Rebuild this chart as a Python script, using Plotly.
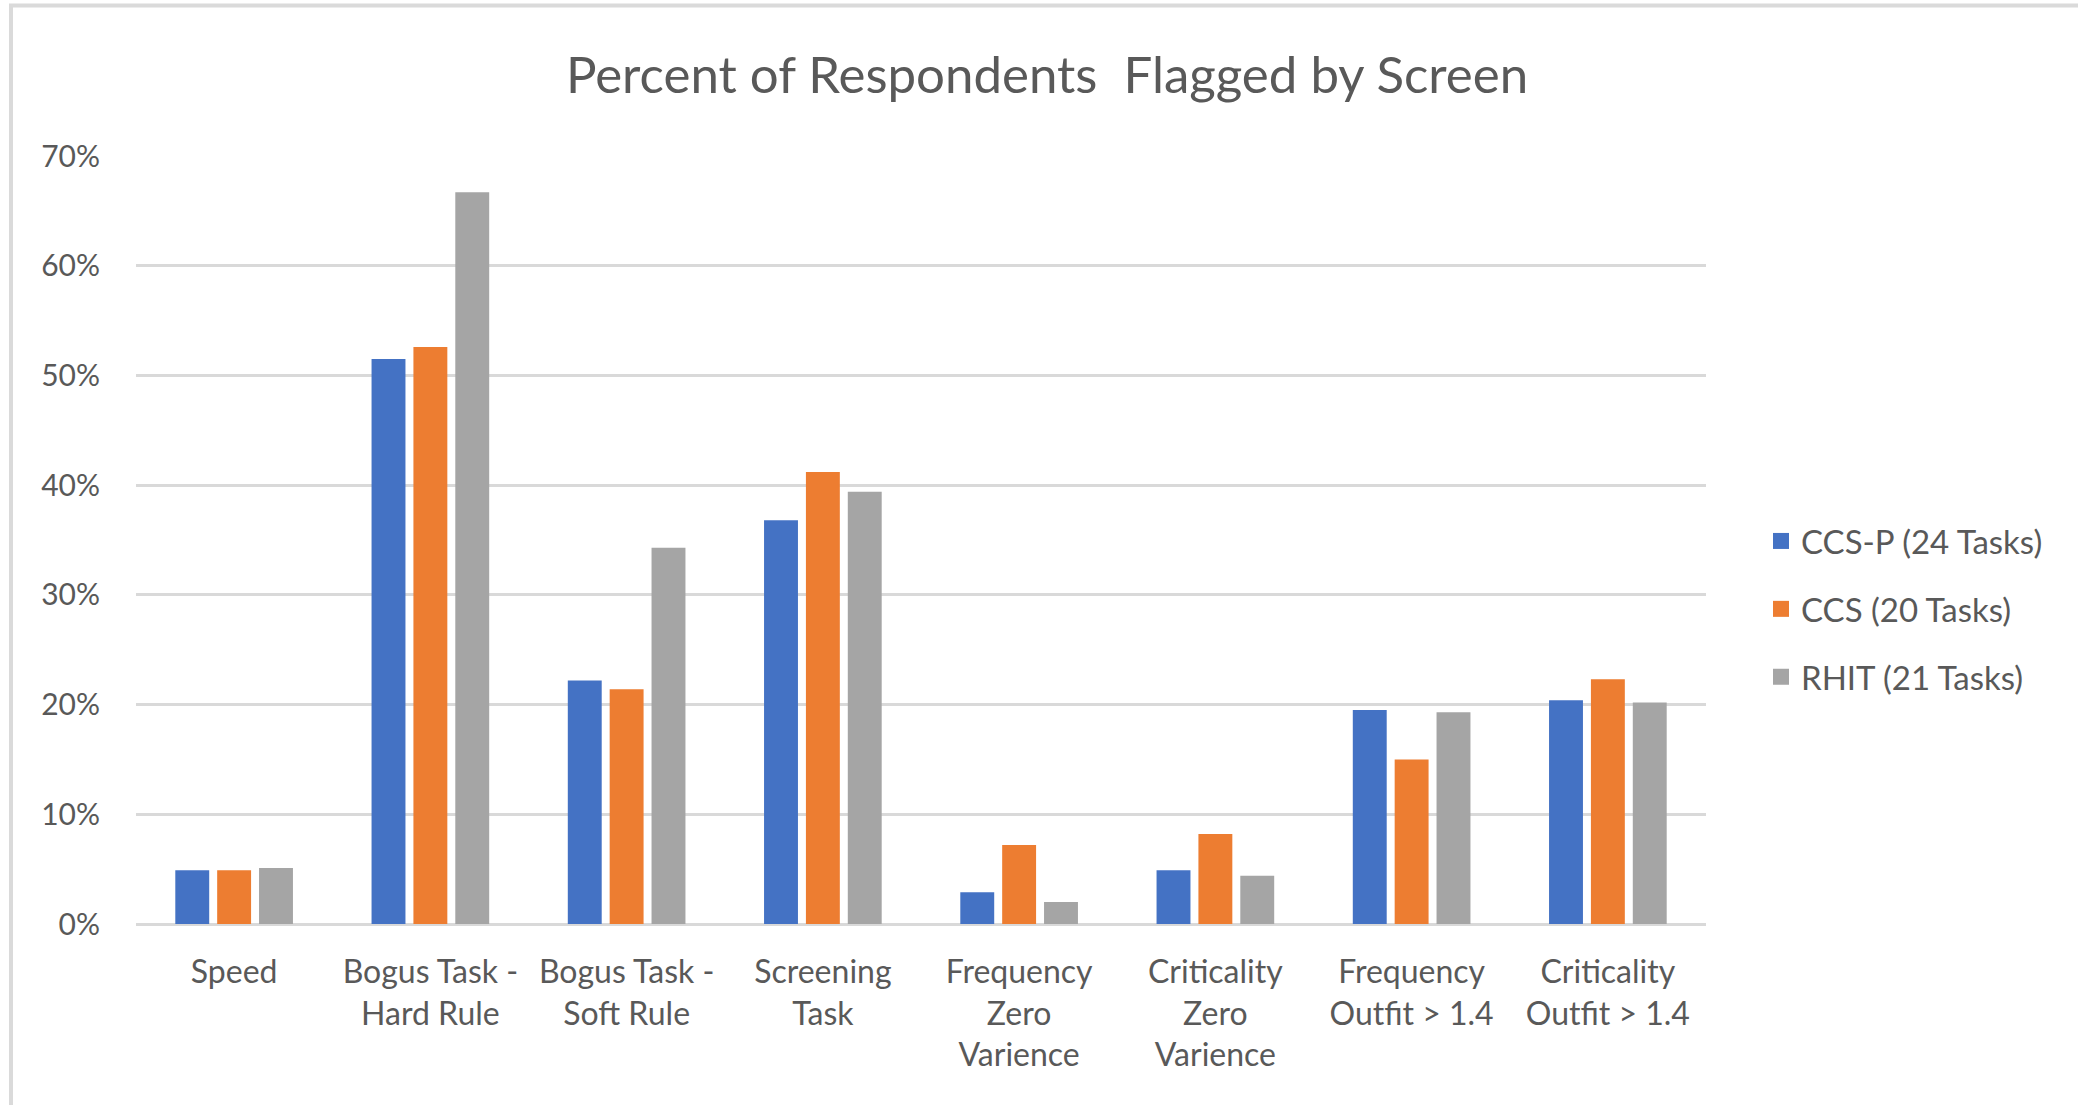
import plotly.graph_objects as go

# Screens applied to the survey responses
categories = [
    "Speed",
    "Bogus Task -<br>Hard Rule",
    "Bogus Task -<br>Soft Rule",
    "Screening<br>Task",
    "Frequency<br>Zero<br>Varience",
    "Criticality<br>Zero<br>Varience",
    "Frequency<br>Outfit > 1.4",
    "Criticality<br>Outfit > 1.4",
]

# Share of respondents flagged (fraction of 1)
ccs_p = [0.049, 0.515, 0.222, 0.368, 0.029, 0.049, 0.195, 0.204]
ccs = [0.049, 0.526, 0.214, 0.412, 0.072, 0.082, 0.150, 0.223]
rhit = [0.051, 0.667, 0.343, 0.394, 0.020, 0.044, 0.193, 0.202]

series_names = ["CCS-P (24 Tasks)", "CCS (20 Tasks)", "RHIT (21 Tasks)"]
series_values = [ccs_p, ccs, rhit]
series_colors = ["#4472C4", "#ED7D31", "#A5A5A5"]

y_ticks = [0, 0.1, 0.2, 0.3, 0.4, 0.5, 0.6, 0.7]
y_tick_labels = ["0%", "10%", "20%", "30%", "40%", "50%", "60%", "70%"]

TEXT = "#595959"
GRID = "#D9D9D9"
FONT = "Lato, 'Open Sans', sans-serif"

W, H = 2078, 1105
L, R, T, B = 136, 372, 156, 181
plot_w = W - L - R
plot_h = H - T - B

fig = go.Figure()

for name, vals, color in zip(series_names, series_values, series_colors):
    fig.add_trace(go.Bar(
        x=categories, y=vals, name=name,
        marker=dict(color=color, line=dict(width=0)),
        showlegend=False,
    ))

# Legend entries with square swatches
for i, (name, color) in enumerate(zip(series_names, series_colors)):
    fig.add_trace(go.Scatter(
        x=[None], y=[None], mode="markers", name=name,
        marker=dict(symbol="square", size=19, color=color),
        legendgroup=f"g{i}", showlegend=True,
    ))

# Light outer frame around the chart
fig.add_shape(
    type="rect", xref="paper", yref="paper",
    x0=(11 - L) / plot_w, x1=(W + 20 - L) / plot_w,
    y0=-(H + 20 - (H - B)) / plot_h, y1=((H - B) - 5.5) / plot_h,
    line=dict(color="#DADADA", width=4), fillcolor="rgba(0,0,0,0)",
    layer="below",
)

fig.update_layout(
    width=W, height=H,
    margin=dict(l=L, r=R, t=T, b=B),
    paper_bgcolor="white", plot_bgcolor="white",
    barmode="group", bargap=0.36, bargroupgap=0.19,
    font=dict(family=FONT, color=TEXT, size=31),
    title=dict(
        text="Percent of Respondents\u00a0\u00a0Flagged by Screen",
        x=(1047 - L) / plot_w, xref="paper", xanchor="center",
        y=1 - 75 / H, yref="container", yanchor="middle",
        font=dict(family=FONT, color=TEXT, size=51),
    ),
    legend=dict(
        x=(1761 - L) / plot_w, xanchor="left",
        y=((H - B) - 609) / plot_h, yanchor="middle",
        traceorder="grouped", tracegroupgap=22,
        font=dict(family=FONT, color=TEXT, size=33),
        bgcolor="rgba(0,0,0,0)",
    ),
    xaxis=dict(
        showgrid=False, showline=False, zeroline=False,
        tickfont=dict(family=FONT, color=TEXT, size=32),
        ticklabelstandoff=26, tickangle=0,
    ),
    yaxis=dict(
        range=[0, 0.7], tickvals=y_ticks, ticktext=y_tick_labels,
        showgrid=True, gridcolor=GRID, gridwidth=3,
        zeroline=True, zerolinecolor=GRID, zerolinewidth=3,
        showline=False,
        tickfont=dict(family=FONT, color=TEXT, size=30),
        ticklabelstandoff=35,
    ),
)

fig.write_html("out.html")
